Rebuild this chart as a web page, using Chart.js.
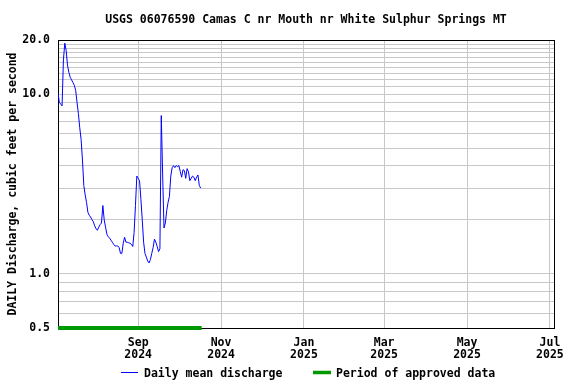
<!DOCTYPE html>
<html>
<head>
<meta charset="utf-8">
<script src="https://cdn.jsdelivr.net/npm/chart.js@4.4.1/dist/chart.umd.min.js"></script>
<style>
  html, body { margin: 0; padding: 0; background: #fff; }
  #hydrograph { display: block; background: #fff; }
</style>
</head>
<body>
<canvas id="hydrograph" width="576" height="384"></canvas>
<script>
// ==========================
// Data
// ==========================
const stationTitle = "USGS 06076590 Camas C nr Mouth nr White Sulphur Springs MT";
const yAxisTitle   = "DAILY Discharge, cubic feet per second";

// daily mean discharge (ft3/s), day 0 = 2024-07-04
const dailyMean = [
  10.1, 9.0, 8.8, 8.6, 15.5, 19.2, 17.5, 14.5, 13.2, 12.4,
  12.0, 11.6, 11.2, 10.5, 9.0, 7.8, 6.5, 5.6, 4.3, 3.1,
  2.75, 2.5, 2.2, 2.12, 2.07, 2.0, 1.95, 1.85, 1.78, 1.75,
  1.82, 1.88, 1.92, 2.4, 2.0, 1.82, 1.66, 1.61, 1.58, 1.54,
  1.5, 1.46, 1.43, 1.43, 1.43, 1.4, 1.3, 1.3, 1.48, 1.6,
  1.5, 1.5, 1.49, 1.48, 1.46, 1.42, 1.7, 2.4, 3.5, 3.4,
  3.3, 2.6, 2.0, 1.5, 1.3, 1.24, 1.18, 1.15, 1.2, 1.3,
  1.4, 1.56, 1.5, 1.42, 1.33, 1.38, 7.6, 3.6, 1.8, 1.92,
  2.25, 2.5, 2.7, 3.5, 3.9, 4.0, 3.9, 4.0, 3.95, 4.0,
  3.7, 3.45, 3.8, 3.75, 3.4, 3.85, 3.7, 3.3, 3.4, 3.5,
  3.45, 3.3, 3.45, 3.55, 3.1, 3.0
];

// approved data period (start day, end day), drawn at the bottom of the axis
const approvedDays  = [0, 105.7];
const approvedLevel = 0.5;

const xRange      = [0, 365];
const xTickDays   = [59, 120, 181, 240, 301, 362];
const xTickLabels = [["Sep", "2024"], ["Nov", "2024"], ["Jan", "2025"], ["Mar", "2025"], ["May", "2025"], ["Jul", "2025"]];

const yRange       = [0.5, 20];
const yGridValues  = [0.5, 0.6, 0.7, 0.8, 0.9, 1, 2, 3, 4, 5, 6, 7, 8, 9, 10, 11, 12, 13, 14, 15, 16, 17, 18, 19, 20];
const yLabelValues = [0.5, 1, 10, 20];
const yLabelText   = ["0.5", "1.0", "10.0", "20.0"];

const legendLabels = ["Daily mean discharge", "Period of approved data"];

// ==========================
// Styles
// ==========================
const FAMILY   = "'DejaVu Sans Mono', 'Liberation Mono', monospace";
const tickFont = { family: FAMILY, size: 11.5, weight: "bold", lineHeight: 1.1 };
const CSS_FONT = "bold 11.5px " + FAMILY;
const BLUE  = "#0000ff";
const GREEN = "#009a00";
const GRID  = "#c8c8c8";

// frame, title and legend
const decorations = {
  id: "decorations",
  beforeDatasetsDraw(chart) {
    const { ctx, chartArea: a } = chart;
    ctx.save();
    ctx.strokeStyle = "#000";
    ctx.lineWidth = 1;
    ctx.strokeRect(a.left + 0.5, a.top + 0.5, a.right - a.left, a.bottom - a.top);
    ctx.restore();
  },
  afterDraw(chart) {
    const { ctx, chartArea: a } = chart;
    ctx.save();
    ctx.font = CSS_FONT;
    ctx.fillStyle = "#000";
    ctx.textBaseline = "middle";

    // title
    ctx.textAlign = "center";
    ctx.fillText(stationTitle, (a.left + a.right) / 2, 20);

    // legend
    const ly = 372.5;
    ctx.textAlign = "left";
    ctx.strokeStyle = BLUE;
    ctx.lineWidth = 1;
    ctx.beginPath();
    ctx.moveTo(121, ly);
    ctx.lineTo(138, ly);
    ctx.stroke();
    ctx.fillText(legendLabels[0], 144, ly + 1.5);

    ctx.strokeStyle = GREEN;
    ctx.lineWidth = 3.5;
    ctx.beginPath();
    ctx.moveTo(313, ly);
    ctx.lineTo(331, ly);
    ctx.stroke();
    ctx.fillText(legendLabels[1], 336, ly + 1.5);
    ctx.restore();
  }
};

const ctx = document.getElementById("hydrograph").getContext("2d");
new Chart(ctx, {
  type: "line",
  data: {
    datasets: [
      {
        label: legendLabels[0],
        data: dailyMean.map((v, i) => ({ x: i, y: v })),
        borderColor: BLUE,
        borderWidth: 1,
        pointRadius: 0,
        tension: 0
      },
      {
        label: legendLabels[1],
        data: approvedDays.map(d => ({ x: d, y: approvedLevel })),
        borderColor: GREEN,
        borderWidth: 4,
        pointRadius: 0,
        clip: false
      }
    ]
  },
  options: {
    responsive: false,
    animation: false,
    layout: { padding: { top: 40, right: 22, bottom: 22, left: 0 } },
    plugins: {
      legend: { display: false },
      title: { display: false },
      tooltip: { enabled: false }
    },
    scales: {
      x: {
        type: "linear",
        min: xRange[0],
        max: xRange[1],
        afterBuildTicks: scale => { scale.ticks = xTickDays.map(v => ({ value: v })); },
        afterFit: scale => { scale.height = 34; },
        ticks: {
          autoSkip: false,
          maxRotation: 0,
          padding: 8.5,
          color: "#000",
          font: tickFont,
          callback: v => xTickLabels[xTickDays.indexOf(v)]
        },
        grid: { color: GRID, drawTicks: false },
        border: { display: false }
      },
      y: {
        type: "logarithmic",
        min: yRange[0],
        max: yRange[1],
        afterBuildTicks: scale => { scale.ticks = yGridValues.map(v => ({ value: v })); },
        afterFit: scale => { scale.width = 58; },
        ticks: {
          autoSkip: false,
          padding: 8,
          color: "#000",
          font: tickFont,
          callback: v => {
            const i = yLabelValues.indexOf(v);
            return i >= 0 ? yLabelText[i] : "";
          }
        },
        grid: { color: GRID, drawTicks: false },
        border: { display: false },
        title: {
          display: true,
          text: yAxisTitle,
          color: "#000",
          font: tickFont,
          padding: { top: 7, bottom: 0 }
        }
      }
    }
  },
  plugins: [decorations]
});
</script>
</body>
</html>
